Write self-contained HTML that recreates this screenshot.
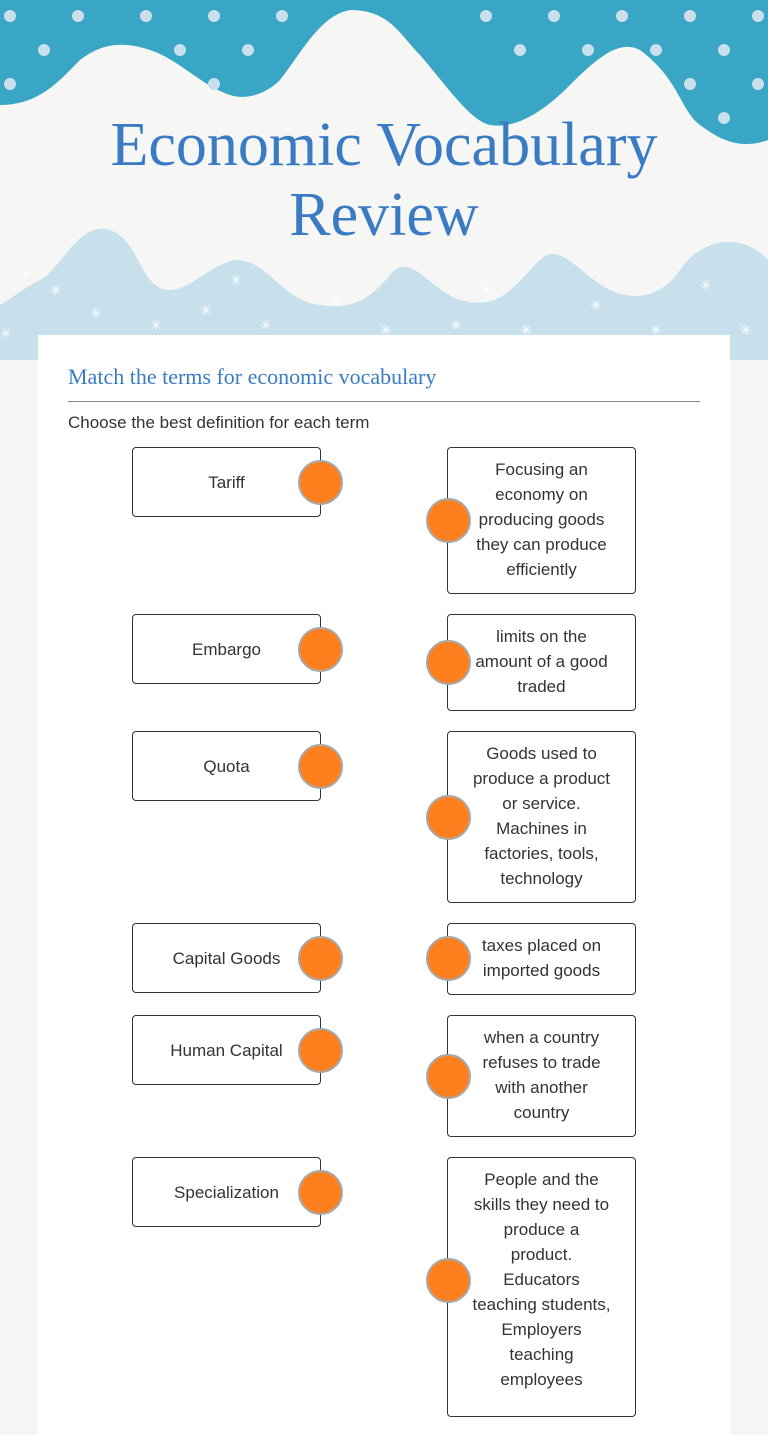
<!DOCTYPE html>
<html><head><meta charset="utf-8"><style>
body{margin:0;width:768px;height:1380px;overflow:hidden;background:#f5f6f8;font-family:"Liberation Sans",sans-serif;position:relative}
.hdr{position:absolute;left:0;top:0}
.title{position:absolute;left:0;width:768px;top:110px;text-align:center;font-family:"Liberation Serif",serif;font-size:62px;line-height:70px;color:#3a7bc4}
.card{position:absolute;left:38px;top:335px;width:692px;height:1100px;background:#fff}
.h2{position:absolute;left:68px;top:364px;font-family:"Liberation Serif",serif;font-size:22px;color:#3a7bc4}
.rule{position:absolute;left:68px;top:401px;width:632px;height:1px;background:#888}
.sub{position:absolute;left:68px;top:413px;font-size:17px;color:#333}
.b{position:absolute;border:1px solid #333;border-radius:4px;background:#fff;box-sizing:border-box;display:flex;align-items:center;justify-content:center;text-align:center;font-size:17px;line-height:25px;color:#333}
.l{left:132px;width:189px;height:70px}
.r{left:447px;width:189px;padding:9px 4px;align-items:flex-start;white-space:nowrap}
.c{position:absolute;width:41px;height:41px;border-radius:50%;background:#fd7f1d;border:2px solid #a9a9a9;box-sizing:content-box;transform:translate(-22px,-22px)}
</style></head><body>
<svg class="hdr" width="768" height="360" viewBox="0 0 768 360">
<rect width="768" height="360" fill="#c7e0ec"/>
<path d="M0 0H768V260C740 230 700 240 680 270C660 300 630 300 610 290C580 275 560 240 540 260C510 290 500 310 460 300C430 290 410 250 390 275C370 300 350 310 320 305C280 300 270 260 235 260C210 265 190 290 170 290C140 290 140 240 110 230C80 220 60 270 40 280C20 290 10 300 0 305Z" fill="#f6f6f4"/>
<path d="M0 0H768V140C740 150 720 140 700 125C680 110 680 80 640 50C620 40 600 55 570 85C550 105 520 130 490 125C470 120 450 90 420 55C400 35 390 10 350 10C320 15 300 55 280 80C265 95 245 100 230 95C200 85 180 60 150 50C120 40 100 45 80 60C60 80 40 105 0 105Z" fill="#38a6c4"/>
<g fill="#c7e0ec">
<circle cx="10" cy="16" r="6"/><circle cx="78" cy="16" r="6"/><circle cx="146" cy="16" r="6"/><circle cx="214" cy="16" r="6"/><circle cx="282" cy="16" r="6"/><circle cx="486" cy="16" r="6"/><circle cx="554" cy="16" r="6"/><circle cx="622" cy="16" r="6"/><circle cx="690" cy="16" r="6"/><circle cx="758" cy="16" r="6"/>
<circle cx="44" cy="50" r="6"/><circle cx="180" cy="50" r="6"/><circle cx="248" cy="50" r="6"/><circle cx="520" cy="50" r="6"/><circle cx="588" cy="50" r="6"/><circle cx="656" cy="50" r="6"/><circle cx="724" cy="50" r="6"/>
<circle cx="10" cy="84" r="6"/><circle cx="214" cy="84" r="6"/><circle cx="690" cy="84" r="6"/><circle cx="758" cy="84" r="6"/><circle cx="724" cy="118" r="6"/>
</g>
<g fill="#fff" font-size="14" font-family="DejaVu Sans">
<text x="20" y="280">✳</text><text x="50" y="295">✳</text><text x="90" y="318">✳</text><text x="150" y="330">✳</text><text x="200" y="315">✳</text><text x="260" y="330">✳</text><text x="330" y="305">✳</text><text x="380" y="335">✳</text><text x="450" y="330">✳</text><text x="520" y="335">✳</text><text x="590" y="310">✳</text><text x="650" y="335">✳</text><text x="700" y="290">✳</text><text x="740" y="335">✳</text><text x="0" y="338">✳</text><text x="230" y="285">✳</text><text x="480" y="295">✳</text>
</g>
</svg>
<div class="title">Economic Vocabulary<br>Review</div>
<div class="card"></div>
<div class="h2">Match the terms for economic vocabulary</div>
<div class="rule"></div>
<div class="sub">Choose the best definition for each term</div>

<div class="b l" style="top:447px">Tariff</div>
<div class="b r" style="top:447px;height:147px">Focusing an<br>economy on<br>producing goods<br>they can produce<br>efficiently</div>
<div class="b l" style="top:614px">Embargo</div>
<div class="b r" style="top:614px;height:97px">limits on the<br>amount of a good<br>traded</div>
<div class="b l" style="top:731px">Quota</div>
<div class="b r" style="top:731px;height:172px">Goods used to<br>produce a product<br>or service.<br>Machines in<br>factories, tools,<br>technology</div>
<div class="b l" style="top:923px">Capital Goods</div>
<div class="b r" style="top:923px;height:72px">taxes placed on<br>imported goods</div>
<div class="b l" style="top:1015px">Human Capital</div>
<div class="b r" style="top:1015px;height:122px">when a country<br>refuses to trade<br>with another<br>country</div>
<div class="b l" style="top:1157px">Specialization</div>
<div class="b r" style="top:1157px;height:260px">People and the<br>skills they need to<br>produce a<br>product.<br>Educators<br>teaching students,<br>Employers<br>teaching<br>employees</div>

<div class="c" style="left:320px;top:482px"></div><div class="c" style="left:448px;top:520px"></div>
<div class="c" style="left:320px;top:649px"></div><div class="c" style="left:448px;top:662px"></div>
<div class="c" style="left:320px;top:766px"></div><div class="c" style="left:448px;top:817px"></div>
<div class="c" style="left:320px;top:958px"></div><div class="c" style="left:448px;top:958px"></div>
<div class="c" style="left:320px;top:1050px"></div><div class="c" style="left:448px;top:1076px"></div>
<div class="c" style="left:320px;top:1192px"></div><div class="c" style="left:448px;top:1280px"></div>
</body></html>
